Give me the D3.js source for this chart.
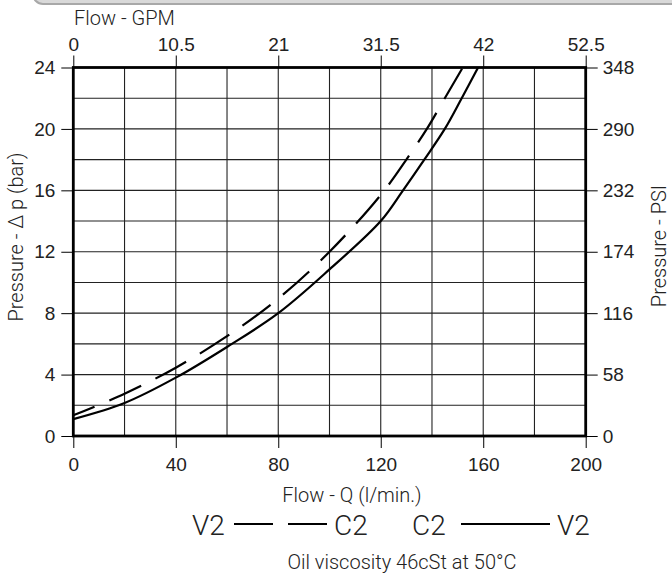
<!DOCTYPE html>
<html>
<head>
<meta charset="utf-8">
<script src="https://cdn.jsdelivr.net/npm/d3@7"></script>
<style>
  body { margin: 0; background: #fff; }
  svg { display: block; font-family: Roboto, "Liberation Sans", Arial, sans-serif; font-weight: 300; }
  .tick text { fill: #222; }
</style>
</head>
<body>
<svg id="grafico" width="672" height="574"></svg>
<script>
// ticks
const flowTicks = [0, 40, 80, 120, 160, 200];
const gpmTicks = [0, 10.5, 21, 31.5, 42, 52.5];
const barTicks = [0, 4, 8, 12, 16, 20, 24];
const psiTicks = [0, 58, 116, 174, 232, 290, 348];

// C2 -> V2 (solid)
const solidQ = [0, 20, 40, 60, 80, 100, 120, 128.7, 137, 145, 151.6, 158];
const solidP = [1.1, 2.15, 3.8, 5.8, 8.0, 10.85, 14.0, 16, 18, 20, 22, 24];

// V2 -> C2 (dashed)
const dashedQ = [0, 20, 40, 60, 80, 100, 120, 130, 138, 145, 152];
const dashedP = [1.35, 2.75, 4.45, 6.5, 8.95, 12.0, 15.7, 18, 20, 22, 24];

const svg = d3.select("#grafico");
const pLeft = 73.3, pRight = 585.7, pTop = 67.5, pBottom = 436;

const x = d3.scaleLinear().domain([0, 200]).range([pLeft, pRight]);
const xGpm = d3.scaleLinear().domain([0, 52.5]).range([pLeft, pRight]);
const y = d3.scaleLinear().domain([0, 24]).range([pBottom, pTop]);
const yPsi = d3.scaleLinear().domain([0, 348]).range([pBottom, pTop]);

// grey header bar cut at the top
svg.append("rect")
  .attr("x", 33).attr("y", -20).attr("width", 700).attr("height", 24).attr("rx", 10)
  .attr("fill", "#d9d9d9").attr("stroke", "#a8a8a8").attr("stroke-width", 2);

// grid
svg.append("g").selectAll("line")
  .data(d3.range(20, 200, 20))
  .join("line")
  .attr("x1", d => x(d)).attr("x2", d => x(d))
  .attr("y1", pTop).attr("y2", pBottom)
  .attr("stroke", "#222").attr("stroke-width", 1.1);

svg.append("g").selectAll("line")
  .data(d3.range(2, 24, 2))
  .join("line")
  .attr("x1", pLeft).attr("x2", pRight)
  .attr("y1", d => y(d)).attr("y2", d => y(d))
  .attr("stroke", "#222").attr("stroke-width", 1.1);

// axes
function estiloEje(g, size) {
  g.select(".domain").remove();
  g.selectAll(".tick line").attr("stroke", "#000").attr("stroke-width", 1);
  g.selectAll(".tick text").attr("font-size", size).attr("font-family", null);
}

svg.append("g").attr("transform", `translate(0,${pBottom})`)
  .call(d3.axisBottom(x).tickValues(flowTicks).tickSize(12).tickPadding(10))
  .call(g => estiloEje(g, 19));

svg.append("g").attr("transform", `translate(0,${pTop})`)
  .call(d3.axisTop(xGpm).tickValues(gpmTicks).tickFormat(d => String(d)).tickSize(12).tickPadding(5))
  .call(g => estiloEje(g, 19));

svg.append("g").attr("transform", `translate(${pLeft},0)`)
  .call(d3.axisLeft(y).tickValues(barTicks).tickSize(12).tickPadding(6))
  .call(g => estiloEje(g, 19));

svg.append("g").attr("transform", `translate(${pRight},0)`)
  .call(d3.axisRight(yPsi).tickValues(psiTicks).tickSize(12).tickPadding(5))
  .call(g => estiloEje(g, 19));

// curves
const linea = d3.line()
  .x(d => x(d[0]))
  .y(d => y(d[1]))
  .curve(d3.curveCatmullRom.alpha(0.5));

svg.append("path")
  .datum(solidQ.map((q, i) => [q, solidP[i]]))
  .attr("d", linea)
  .attr("fill", "none").attr("stroke", "#000").attr("stroke-width", 2.2);

svg.append("path")
  .datum(dashedQ.map((q, i) => [q, dashedP[i]]))
  .attr("d", linea)
  .attr("fill", "none").attr("stroke", "#000").attr("stroke-width", 2.2)
  .attr("stroke-dasharray", "35,16").attr("stroke-dashoffset", 12);

// frame
svg.append("rect")
  .attr("x", pLeft).attr("y", pTop)
  .attr("width", pRight - pLeft).attr("height", pBottom - pTop)
  .attr("fill", "none").attr("stroke", "#000").attr("stroke-width", 2.8);

// titles
const texto = (tx, ty, s, size, anchor, rot) => {
  const t = svg.append("text")
    .attr("x", tx).attr("y", ty)
    .attr("font-size", size)
    .attr("fill", "#222")
    .attr("text-anchor", anchor || "start")
    .text(s);
  if (rot) t.attr("transform", `rotate(-90,${tx},${ty})`);
  return t;
};

texto(74, 25, "Flow - GPM", 20);
texto(352, 502, "Flow - Q (l/min.)", 20, "middle");
texto(23, 237, "Pressure - Δ p (bar)", 20, "middle", true);
texto(666, 246, "Pressure - PSI", 20, "middle", true);
texto(402, 569, "Oil viscosity 46cSt at 50°C", 20, "middle");

// legend
texto(192, 535, "V2", 28);
texto(334, 535, "C2", 28);
texto(412, 535, "C2", 28);
texto(557, 535, "V2", 28);
[[234, 273], [288, 327], [461, 550]].forEach(([a, b]) => {
  svg.append("line")
    .attr("x1", a).attr("x2", b).attr("y1", 524).attr("y2", 524)
    .attr("stroke", "#000").attr("stroke-width", 2);
});
</script>
</body>
</html>
